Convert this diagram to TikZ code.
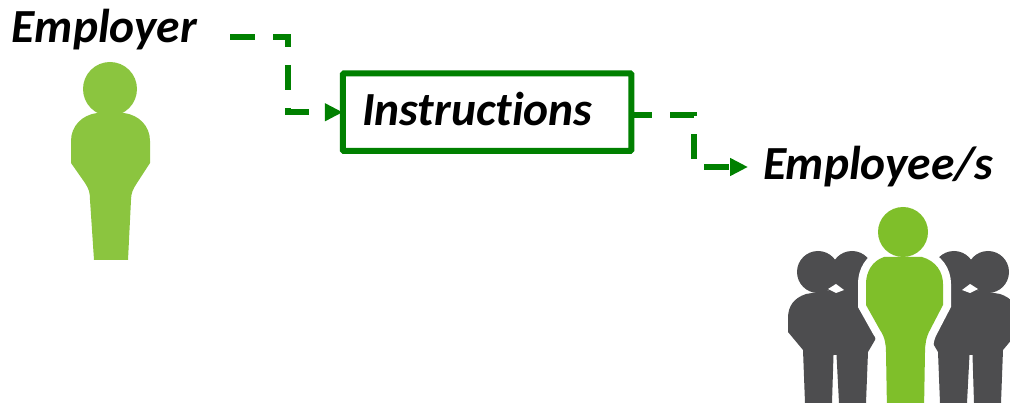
\documentclass[tikz,border=0pt]{standalone}
\usepackage{fontspec}
\setmainfont[Ligatures=NoCommon]{Carlito}
\usetikzlibrary{arrows.meta,calc}
\definecolor{flow}{HTML}{008000}
\definecolor{leaf}{HTML}{8BC53F}
\definecolor{leafb}{HTML}{7FBF2A}
\definecolor{slate}{HTML}{4D4D4F}
\tikzset{
  label text/.style={inner sep=0pt,outer sep=0pt,anchor=base west,font=\fontsize{47.5}{54}\selectfont\bfseries\itshape},
  flow box/.style={draw=flow,line width=6pt,rounded corners=1pt,minimum width=288.5pt,minimum height=77.5pt,inner sep=0pt,outer sep=0pt},
  flow line/.style={draw=flow,line width=6pt,dash pattern=on 25pt off 18pt,-{Triangle[length=18pt,width=17pt]}}
}
\begin{document}
\begin{tikzpicture}[x=1pt,y=-1pt]
\useasboundingbox (0,0) rectangle (1010,403);
\clip (0,0) rectangle (1010,403);
% employer figure
\fill[leaf] (110,89) circle (27);
\fill[leaf] (97,113) .. controls (82,115) and (71,126) .. (71,141) -- (71,163) -- (85,183) .. controls (89,189) and (90,193) .. (90,200) -- (94,260) -- (128,260) -- (131,200) .. controls (131,193) and (133,189) .. (137,183) -- (150,163) -- (150,141) .. controls (150,126) and (139,115) .. (124,113) -- cycle;
% grey figures of the group
\foreach \m in {0,1}{
  \begin{scope}[shift={(903*\m*2,0)},xscale={1-2*\m}]
    \fill[slate] (818,272) circle (21);
    \fill[slate] (852,272) circle (21);
    \fill[slate] (806,294) .. controls (794,298) and (788,306) .. (788,318) -- (788,332) -- (803,350) -- (805,403) -- (832,403) -- (833.5,355) -- (836.5,355) -- (839,403) -- (866,403) -- (868,352) -- (875,340) -- (885,300) -- (860,285) -- cycle;
    \fill[white] (828,289) -- (836,284) -- (844,290) -- (836,293) -- cycle;
  \end{scope}
}
% central figure of the group
\fill[leafb,draw=white,line width=16pt] (884,257) .. controls (872,261) and (866,272) .. (866,284) -- (866,305) -- (880,330) .. controls (885,337) and (886,345) .. (886,352) -- (887,410) -- (924,410) -- (925,352) .. controls (925,345) and (926,337) .. (930,330) -- (943,305) -- (943,284) .. controls (943,272) and (936,261) .. (922,257) -- cycle;
\fill[leafb] (903,232) circle (25);
\fill[leafb] (884,257) .. controls (872,261) and (866,272) .. (866,284) -- (866,305) -- (880,330) .. controls (885,337) and (886,345) .. (886,352) -- (887,410) -- (924,410) -- (925,352) .. controls (925,345) and (926,337) .. (930,330) -- (943,305) -- (943,284) .. controls (943,272) and (936,261) .. (922,257) -- cycle;
% labels and box
\node[label text] (employer) at (12,42.5) {Employer};
\node[flow box] (box) at (487,112.25) {};
\node[label text] (instructions) at (362,125.5) {Instructions};
\node[label text] (employees) at (763,179.5) {Employee/s};
% connectors
\coordinate (ea) at (230,37);
\coordinate (eb) at (288,37);
\coordinate (ia) at (694,115);
\coordinate (ib) at (748,167);
\draw[flow line] (ea) -- (eb) |- (box.west);
\draw[flow line,dash phase=4pt] (box.east |- ia) -- (ia) |- (ib);
\end{tikzpicture}
\end{document}
